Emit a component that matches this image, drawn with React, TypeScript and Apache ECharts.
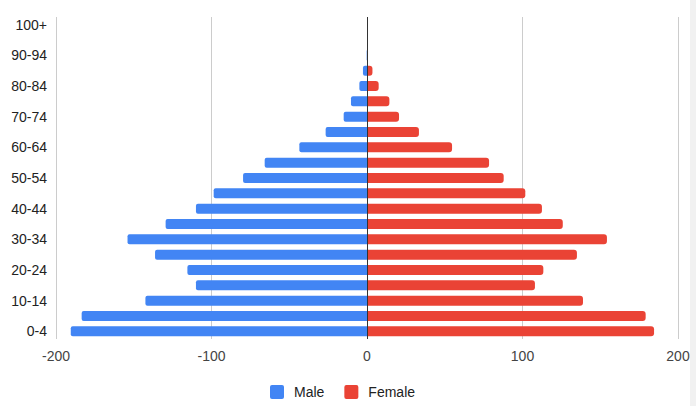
import React, { useEffect, useRef } from "react";
import * as echarts from "echarts";

const ageGroups = [
  "0-4", "5-9", "10-14", "15-19", "20-24", "25-29", "30-34", "35-39", "40-44", "45-49",
  "50-54", "55-59", "60-64", "65-69", "70-74", "75-79", "80-84", "85-89", "90-94", "95-99", "100+",
];
const maleValues = [
  -190.5, -183.5, -142.5, -110, -115.5, -136.3, -154, -129.5, -110, -98.6,
  -79.7, -65.8, -43.5, -26.6, -15, -10.3, -4.9, -2.6, -0.2, 0, 0,
];
const femaleValues = [
  184.6, 179.2, 138.9, 108, 113.4, 135, 154.3, 125.9, 112.5, 101.8,
  87.9, 78.5, 54.7, 33.4, 20.6, 14.4, 7.5, 3.5, 0.6, 0, 0,
];
const xTicks = { min: -200, max: 200, interval: 100 };

export default function App() {
  const ref = useRef<HTMLDivElement>(null);
  useEffect(() => {
    if (!ref.current) return;
    const chart = echarts.init(ref.current, null, { renderer: "svg" });
    const font = "Arial, 'Liberation Sans', sans-serif";
    chart.setOption({
      animation: false,
      textStyle: { fontFamily: font },
      grid: { left: 56, right: 18, top: 17, bottom: 67, containLabel: false },
      legend: {
        left: 265,
        bottom: 2,
        itemWidth: 14,
        itemHeight: 14,
        itemGap: 20,
        icon: "path://M2,0 L12,0 Q14,0 14,2 L14,12 Q14,14 12,14 L2,14 Q0,14 0,12 L0,2 Q0,0 2,0 Z",
        textStyle: { fontSize: 14, color: "#222", fontFamily: font, padding: [0, 0, 0, 5] },
        data: ["Male", "Female"],
      },
      xAxis: {
        type: "value",
        min: xTicks.min,
        max: xTicks.max,
        interval: xTicks.interval,
        axisLine: { show: false },
        axisTick: { show: false },
        axisLabel: { fontSize: 14, color: "#444", margin: 10, fontFamily: font },
        splitLine: { show: true, lineStyle: { color: "#ccc", width: 1 } },
      },
      yAxis: {
        type: "category",
        data: ageGroups,
        axisLine: { show: false, onZero: false },
        axisTick: { show: false },
        axisLabel: { fontSize: 14, color: "#222", margin: 9, interval: 1, fontFamily: font },
        splitLine: { show: false },
      },
      series: [
        {
          name: "Male",
          type: "bar",
          stack: "pop",
          data: maleValues,
          barWidth: 10,
          itemStyle: { color: "#4285F4", borderRadius: [2, 0, 0, 2] },
          markLine: {
            silent: true,
            symbol: "none",
            label: { show: false },
            lineStyle: { color: "#333", width: 1, type: "solid" },
            data: [{ xAxis: 0 }],
            z: 10,
          },
        },
        {
          name: "Female",
          type: "bar",
          stack: "pop",
          data: femaleValues,
          barWidth: 10,
          itemStyle: { color: "#EA4335", borderRadius: [0, 3, 3, 0] },
        },
      ],
      graphic: [
        {
          type: "rect",
          right: 0,
          top: 0,
          z: 100,
          shape: { width: 6, height: 406 },
          style: { fill: "#f1f1f1" },
        },
      ],
    });
    return () => chart.dispose();
  }, []);
  return <div ref={ref} style={{ width: 696, height: 406, position: "absolute", left: 0, top: 0 }} />;
}
